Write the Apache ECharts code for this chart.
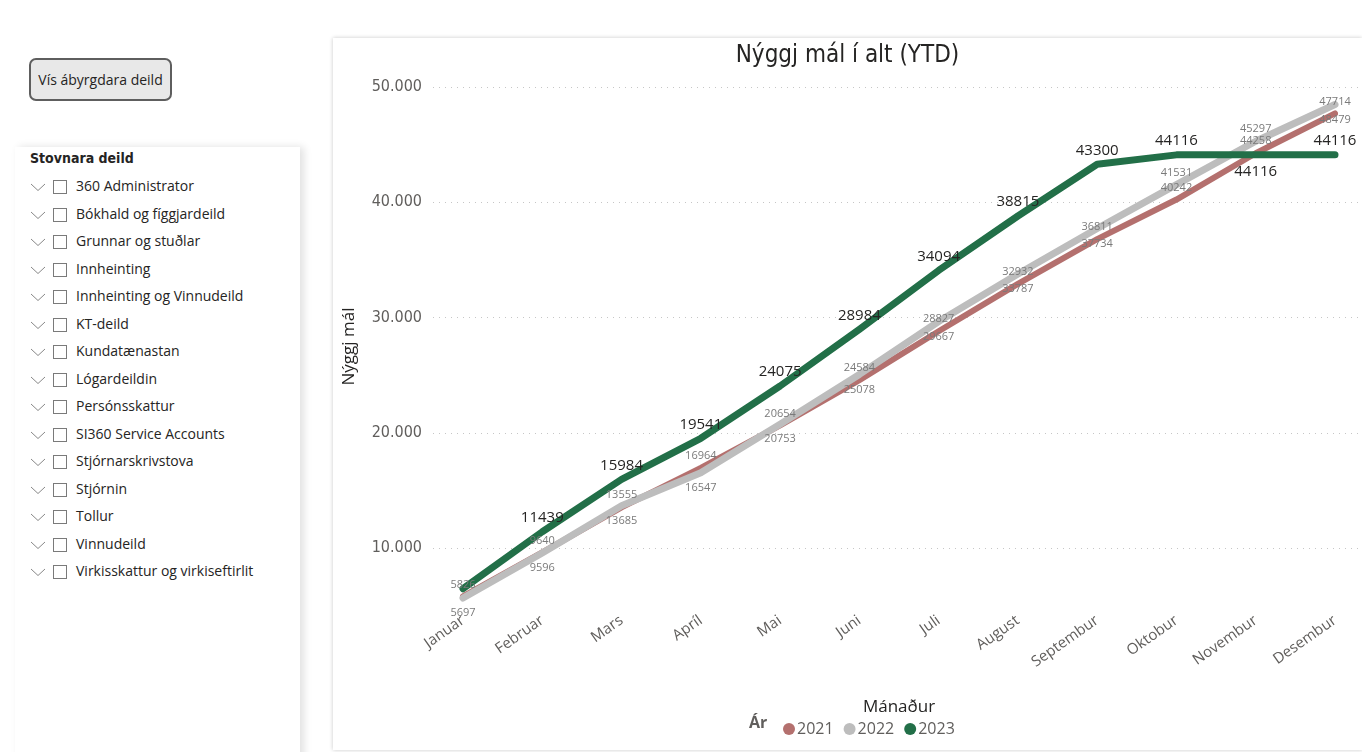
<!DOCTYPE html>
<html lang="fo">
<head>
    <meta charset="UTF-8">
    <title>Nýggj mál í alt (YTD)</title>
    <script src="https://cdn.jsdelivr.net/npm/echarts@6/dist/echarts.min.js"></script>
    <style>
        body {
            margin: 0;
            width: 1362px;
            height: 752px;
            overflow: hidden;
            background: #fff;
            font-family: "Open Sans", "Noto Sans", sans-serif;
            position: relative;
        }
        #btn {
            position: absolute;
            left: 29px; top: 58px;
            width: 143px; height: 43px;
            box-sizing: border-box;
            border: 2px solid #5e5e5e;
            border-radius: 7px;
            background: #e8e8e8;
            font-size: 14px;
            color: #252423;
            line-height: 39px;
            text-align: center;
        }
        #slicer {
            position: absolute;
            left: 15px; top: 147px;
            width: 285px; height: 620px;
            background: #fff;
            box-shadow: 4px 0 8px rgba(0,0,0,0.12);
        }
        #slicer h3 {
            margin: 0;
            position: absolute;
            left: 15px; top: 3px;
            font-size: 14px;
            font-weight: 600;
            color: #252423;
            font-family: "DejaVu Sans Condensed", "Noto Sans", sans-serif;
        }
        .item {
            position: absolute;
            left: 15px;
            height: 20px;
            font-size: 14px;
            color: #252423;
            white-space: nowrap;
        }
        .item svg { position: absolute; left: 0; top: 5px; }
        .item .box {
            position: absolute;
            left: 23px; top: 2px;
            width: 12px; height: 12px;
            border: 1px solid #7a7a7a;
        }
        .item span.t { position: absolute; left: 46px; top: -2px; }
        #chart {
            position: absolute;
            left: 333px; top: 38px;
            width: 1029px; height: 712px;
            background: #fff;
            box-shadow: 0 0 4px rgba(0,0,0,0.22);
        }
    </style>
</head>
<body>
<div id="btn">Vís ábyrgdara deild</div>
<div id="slicer"><h3>Stovnara deild</h3></div>
<div id="chart"></div>

<script>
    // slicer entries
    var departments = ['360 Administrator', 'Bókhald og fíggjardeild', 'Grunnar og stuðlar', 'Innheinting',
        'Innheinting og Vinnudeild', 'KT-deild', 'Kundatænastan', 'Lógardeildin', 'Persónsskattur',
        'SI360 Service Accounts', 'Stjórnarskrivstova', 'Stjórnin', 'Tollur', 'Vinnudeild',
        'Virkisskattur og virkiseftirlit'];

    var slicer = document.getElementById('slicer');
    departments.forEach(function (d, i) {
        var el = document.createElement('div');
        el.className = 'item';
        el.style.top = (31 + i * 27.5) + 'px';
        el.innerHTML = '<svg width="16" height="9"><polyline points="1,1 8,7.5 15,1" fill="none" stroke="#888" stroke-width="1"/></svg>' +
            '<div class="box"></div><span class="t">' + d + '</span>';
        slicer.appendChild(el);
    });

    // chart data
    var months = ['Januar', 'Februar', 'Mars', 'Apríl', 'Mai', 'Juni', 'Juli', 'August',
        'Septembur', 'Oktobur', 'Novembur', 'Desembur'];
    var years = ['2021', '2022', '2023'];
    var v2021 = [5826, 9640, 13555, 16964, 20654, 24584, 28827, 32932, 36811, 40242, 44258, 47714];
    var v2022 = [5697, 9596, 13685, 16547, 20753, 25078, 29667, 33787, 37734, 41531, 45297, 48479];
    var v2023 = [6500, 11439, 15984, 19541, 24075, 28984, 34094, 38815, 43300, 44116, 44116, 44116];
    var yTicks = [10000, 20000, 30000, 40000, 50000];

    // label placement per point (top / bottom / none)
    var pos2021 = ['top', 'top', 'top', 'top', 'top', 'top', 'top', 'top', 'top', 'top', 'top', 'top'];
    var pos2022 = ['bottom', 'bottom', 'bottom', 'bottom', 'bottom', 'bottom', 'bottom', 'bottom', 'bottom', 'top', 'top', 'bottom'];
    var pos2023 = ['none', 'top', 'top', 'top', 'top', 'top', 'top', 'top', 'top', 'top', 'bottom', 'top'];

    var colors = ['#B4706E', '#BDBDBD', '#226F48'];
    var yMin = 5000, yMax = 50000;

    function build(vals, pos) {
        return vals.map(function (v, i) {
            if (pos[i] === 'none') return { value: v, label: { show: false } };
            return { value: v, label: { position: pos[i], distance: pos[i] === 'top' ? 6 : 9 } };
        });
    }

    function fmt(v) {
        return String(v).replace(/\B(?=(\d{3})+(?!\d))/g, '.');
    }

    var chart = echarts.init(document.getElementById('chart'));

    var smallLabel = { show: true, fontSize: 11, color: '#7a7a7a', fontFamily: 'Open Sans' };
    var bigLabel = { show: true, fontSize: 15, color: '#252423', fontFamily: 'Open Sans' };

    // line only (labels drawn by a separate top layer so no line hides them)
    function lineSeries(name, vals, idx, width) {
        return {
            name: name,
            type: 'line',
            xAxisIndex: 1,
            yAxisIndex: 1,
            data: vals,
            showSymbol: false,
            itemStyle: { color: colors[idx] },
            lineStyle: { width: width, color: colors[idx], cap: 'round', join: 'round' },
            emphasis: { disabled: true },
            silent: true,
            z: 2 + idx
        };
    }

    function labelSeries(name, vals, pos, label) {
        return {
            name: name + ' labels',
            type: 'line',
            xAxisIndex: 1,
            yAxisIndex: 1,
            data: build(vals, pos),
            symbol: 'circle',
            symbolSize: 1,
            showSymbol: true,
            itemStyle: { color: 'rgba(0,0,0,0)' },
            lineStyle: { width: 0, color: 'rgba(0,0,0,0)' },
            label: label,
            emphasis: { disabled: true },
            silent: true,
            z: 10
        };
    }

    var option = {
        animation: false,
        title: {
            text: 'Nýggj mál í alt (YTD)',
            left: 'center',
            top: 1,
            textStyle: { fontSize: 24, fontWeight: 'normal', color: '#252423', fontFamily: 'DejaVu Sans Condensed' }
        },
        legend: {
            data: years,
            left: 445,
            top: 678,
            icon: 'circle',
            itemWidth: 12,
            itemHeight: 12,
            itemGap: 10,
            textStyle: { fontSize: 16, color: '#605E5C', fontFamily: 'Open Sans', padding: [0, 0, 0, -3] }
        },
        graphic: [{
            type: 'text',
            left: 416,
            top: 677,
            style: { text: 'Ár', fontSize: 16, fontWeight: 'bold', fill: '#605E5C', fontFamily: 'Open Sans' }
        }],
        grid: [
            { left: 92, right: 0, top: 49, bottom: 144 },
            { left: 130, right: 27, top: 49, bottom: 144 }
        ],
        xAxis: [
            { type: 'category', gridIndex: 0, data: months, show: false },
            {
                type: 'category',
                gridIndex: 1,
                data: months,
                boundaryGap: false,
                axisLine: { show: false },
                axisTick: { show: false },
                axisLabel: { rotate: 35, margin: 13, fontSize: 15, color: '#605E5C', fontFamily: 'Open Sans' },
                name: 'Mánaður',
                nameLocation: 'middle',
                nameGap: 93,
                nameTextStyle: { fontSize: 17, color: '#252423', fontFamily: 'Open Sans' }
            }
        ],
        yAxis: [
            {
                type: 'value',
                gridIndex: 0,
                min: yMin,
                max: yMax,
                interval: 5000,
                axisLine: { show: false },
                axisTick: { show: false },
                axisLabel: {
                    margin: 11,
                    fontSize: 16,
                    color: '#605E5C',
                    fontFamily: 'DejaVu Sans Condensed',
                    formatter: function (v) { return yTicks.indexOf(v) >= 0 ? fmt(v) : ''; }
                },
                splitLine: {
                    show: true,
                    lineStyle: { color: ['rgba(0,0,0,0)', '#c6c6c6'], type: [1, 5], width: 1 }
                },
                name: 'Nýggj mál',
                nameLocation: 'middle',
                nameGap: 75,
                nameTextStyle: { fontSize: 17, color: '#252423', fontFamily: 'Open Sans' }
            },
            {
                type: 'value',
                gridIndex: 1,
                min: yMin,
                max: yMax,
                show: false,
                splitLine: { show: false }
            }
        ],
        series: [
            lineSeries('2021', v2021, 0, 6),
            lineSeries('2022', v2022, 1, 7),
            lineSeries('2023', v2023, 2, 7),
            labelSeries('2021', v2021, pos2021, smallLabel),
            labelSeries('2022', v2022, pos2022, smallLabel),
            labelSeries('2023', v2023, pos2023, bigLabel)
        ]
    };

    chart.setOption(option);
</script>
</body>
</html>
